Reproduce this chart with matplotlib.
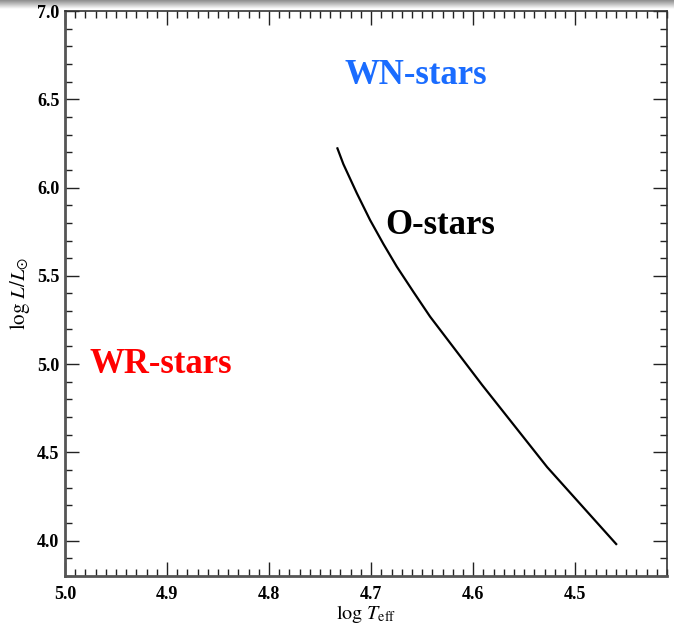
import numpy as np
import matplotlib
matplotlib.use("Agg")
import matplotlib.pyplot as plt
from matplotlib.ticker import MultipleLocator

plt.rcParams["font.family"] = ["Liberation Serif", "DejaVu Serif"]
plt.rcParams["mathtext.fontset"] = "stix"

# ZAMS-like track in the HRD
log_teff = [4.7330, 4.7272, 4.7140, 4.7010, 4.6879, 4.6748, 4.6585, 4.6422,
            4.5912, 4.5275, 4.4598]
log_lum = [6.222, 6.133, 5.968, 5.816, 5.680, 5.552, 5.409, 5.269,
           4.882, 4.417, 3.981]

region_labels = ["WN-stars", "O-stars", "WR-stars"]
region_teff = [4.656, 4.632, 4.906]
region_lum = [6.635, 5.787, 5.0]
region_colors = ["#1a6cff", "black", "#ff0000"]

x_ticks = [5.0, 4.9, 4.8, 4.7, 4.6, 4.5]
y_ticks = [4.0, 4.5, 5.0, 5.5, 6.0, 6.5, 7.0]

fig = plt.figure(figsize=(6.74, 6.24), dpi=100)

# grey shade along the top edge
shade = fig.add_axes([0, 1 - 9 / 624, 1, 9 / 624])
grad = np.linspace(0.55, 1.0, 50).reshape(-1, 1)
shade.imshow(grad, cmap="gray", vmin=0, vmax=1, aspect="auto",
             extent=[0, 1, 0, 1], origin="upper")
shade.set_axis_off()

ax = fig.add_axes([65 / 674, 1 - 576 / 624, 602 / 674, 565 / 624])
ax.plot(log_teff, log_lum, color="black", lw=1.6, solid_joinstyle="round")

for text, t, l, c in zip(region_labels, region_teff, region_lum, region_colors):
    ax.text(t, l, text, color=c, fontsize=25, fontweight="bold",
            ha="center", va="center")

ax.set_xlim(5.0, 4.41)
ax.set_ylim(3.8, 7.0)
ax.set_xticks(x_ticks)
ax.set_yticks(y_ticks)
ax.set_xticklabels([f"{v:.1f}" for v in x_ticks])
ax.set_yticklabels([f"{v:.1f}" for v in y_ticks])
ax.xaxis.set_minor_locator(MultipleLocator(0.01))
ax.yaxis.set_minor_locator(MultipleLocator(0.1))

ax.tick_params(which="both", direction="in", top=True, right=True,
               color="#222222", width=1.0)
ax.tick_params(which="major", length=10, labelsize=13)
ax.tick_params(axis="x", which="major", pad=7)
ax.tick_params(axis="y", which="major", pad=4)
ax.tick_params(which="minor", length=5)
for lab in ax.get_xticklabels() + ax.get_yticklabels():
    lab.set_fontweight("bold")

for side in ["left", "bottom"]:
    ax.spines[side].set_color("#555555")
    ax.spines[side].set_linewidth(2.0)
for side in ["top", "right"]:
    ax.spines[side].set_color("#333333")
    ax.spines[side].set_linewidth(1.2)

ax.set_xlabel(r"$\log\,T_{\rm eff}$", fontsize=14.5, labelpad=0)
ax.set_ylabel(r"$\log\,L/L_{\odot}$", fontsize=15, labelpad=4)

fig.savefig("out.png", dpi=100)
